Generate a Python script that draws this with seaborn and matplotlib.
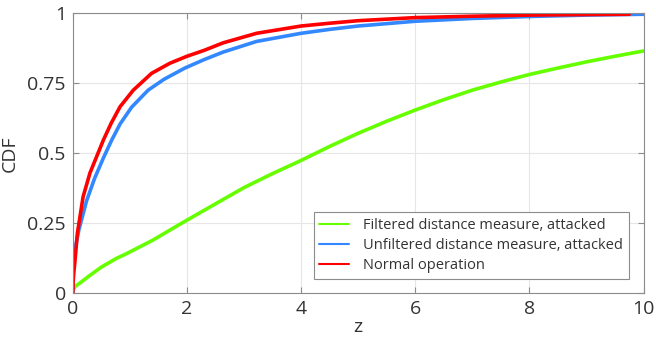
import numpy as np
import pandas as pd
import matplotlib
matplotlib.use("Agg")
import matplotlib.pyplot as plt
import seaborn as sns

# ---- data ----
z_normal = [0, 0.008, 0.02, 0.035, 0.08, 0.18, 0.3, 0.42, 0.536, 0.67, 0.828, 1.06, 1.38, 1.7, 2.0,
            2.3, 2.635, 3.22, 4.0, 4.5, 5, 6, 7, 8, 9, 9.75]
cdf_normal = [0, 0.05, 0.08, 0.11, 0.215, 0.345, 0.43, 0.49, 0.548, 0.607, 0.667, 0.726, 0.786, 0.822, 0.847,
              0.868, 0.895, 0.929, 0.955, 0.965, 0.974, 0.985, 0.99, 0.994, 0.996, 0.997]

z_unfilt = [0, 0.002, 0.01, 0.05, 0.105, 0.24, 0.38, 0.536, 0.68, 0.828, 1.03, 1.32, 1.6, 1.965, 2.3,
            2.635, 3.22, 4.0, 4.5, 5, 6, 7, 8, 9, 10]
cdf_unfilt = [0, 0.1, 0.12, 0.17, 0.226, 0.33, 0.41, 0.484, 0.547, 0.605, 0.665, 0.726, 0.765, 0.805, 0.835,
              0.862, 0.9, 0.929, 0.943, 0.955, 0.972, 0.982, 0.989, 0.994, 0.997]

z_filt = [0, 0.01, 0.035, 0.15, 0.27, 0.5, 0.763, 0.95, 1.4, 1.9, 2.5, 3, 3.5, 4, 4.5, 5, 5.5, 6, 6.5, 7,
          7.5, 8, 8.5, 9, 9.5, 10]
cdf_filt = [0, 0.012, 0.024, 0.041, 0.06, 0.094, 0.125, 0.143, 0.19, 0.25, 0.32, 0.378, 0.428, 0.475, 0.525,
            0.572, 0.615, 0.655, 0.692, 0.726, 0.755, 0.782, 0.805, 0.827, 0.847, 0.866]

labels = ["Filtered distance measure, attacked",
          "Unfiltered distance measure, attacked",
          "Normal operation"]
colors = ["#66ff00", "#3388ff", "#ff0000"]

frames = []
for lab, zz, cc in zip(labels, [z_filt, z_unfilt, z_normal], [cdf_filt, cdf_unfilt, cdf_normal]):
    frames.append(pd.DataFrame({"z": zz, "CDF": cc, "series": lab}))
df = pd.concat(frames, ignore_index=True)

sns.set_theme(style="white")
plt.rcParams["font.family"] = ["Open Sans", "DejaVu Sans"]

fig = plt.figure(figsize=(6.56, 3.44), dpi=100)
ax = fig.add_axes([0.111, 0.147, 0.870, 0.814])

sns.lineplot(data=df, x="z", y="CDF", hue="series", hue_order=labels,
             palette=colors, linewidth=2.6, ax=ax, sort=False, estimator=None)

ax.set_xlim(0, 10)
ax.set_ylim(0, 1)
ax.set_xticks([0, 2, 4, 6, 8, 10])
ax.set_xticklabels(["0", "2", "4", "6", "8", "10"])
ax.set_yticks([0, 0.25, 0.5, 0.75, 1])
ax.set_yticklabels(["0", "0.25", "0.5", "0.75", "1"])
ax.grid(True, color="#e6e6e6", linewidth=0.8)
ax.set_axisbelow(True)
for s in ax.spines.values():
    s.set_visible(True)
    s.set_color("#8c8c8c")
    s.set_linewidth(0.8)
ax.tick_params(direction="in", length=4, width=0.8, color="#8c8c8c",
               labelsize=14, labelcolor="#333333", top=True, right=True,
               bottom=True, left=True, pad=5)
ax.set_xlabel("z", fontsize=14, color="#333333", labelpad=0)
ax.set_ylabel("CDF", fontsize=14, color="#333333", labelpad=6)

leg = ax.legend(loc="lower right", fontsize=10.5, frameon=True, fancybox=False,
                edgecolor="#8c8c8c", framealpha=1, handlelength=2.0,
                borderaxespad=1.0, labelspacing=0.35, handletextpad=1.0)
leg.get_frame().set_linewidth(0.8)
for h in leg.get_lines():
    h.set_linewidth(1.5)
for t in leg.get_texts():
    t.set_color("#333333")

fig.savefig("out.png", dpi=100)
